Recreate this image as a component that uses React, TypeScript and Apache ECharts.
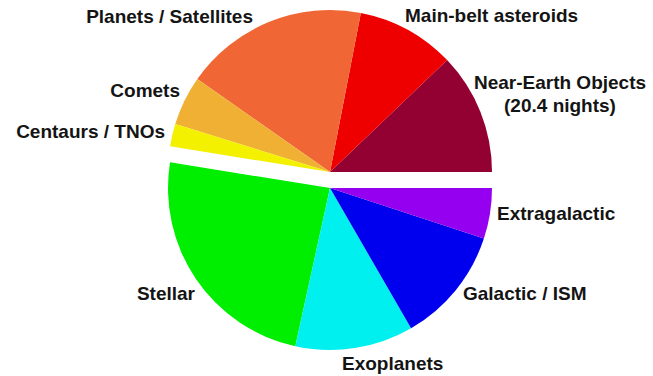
import React, { useEffect, useRef } from "react";
import * as echarts from "echarts";

// Observing time by science area (nights). Solar-system programmes form the
// upper half of the pie; the rest form the lower half.
const solarCategories = [
  "Near-Earth Objects",
  "Main-belt asteroids",
  "Planets / Satellites",
  "Comets",
  "Centaurs / TNOs",
];
const solarNights = [20.4, 16.5, 30.8, 8.3, 3.8];
const solarColors = ["#930032", "#ee0000", "#f06735", "#f0b033", "#f3f000"];

const otherCategories = ["Stellar", "Exoplanets", "Galactic / ISM", "Extragalactic"];
const otherNights = [40.5, 19.8, 19.5, 8.5];
const otherColors = ["#00ee00", "#00f0f0", "#0000ee", "#9500f0"];

// Where each text label sits (px) and how it is anchored.
const labelAnchors: Record<string, { x: number; y: number; align: string }> = {
  "Near-Earth Objects": { x: 560, y: 94, align: "center" },
  "Main-belt asteroids": { x: 405, y: 15, align: "left" },
  "Planets / Satellites": { x: 253, y: 16, align: "right" },
  Comets: { x: 180, y: 90, align: "right" },
  "Centaurs / TNOs": { x: 165, y: 131, align: "right" },
  Stellar: { x: 195, y: 293, align: "right" },
  Exoplanets: { x: 342, y: 363, align: "left" },
  "Galactic / ISM": { x: 463, y: 293, align: "left" },
  Extragalactic: { x: 497, y: 213, align: "left" },
};

const sum = (a: number[]) => a.reduce((s, v) => s + v, 0);

const labelText = {
  show: true,
  position: "outside",
  color: "#141414",
  fontFamily: "'Liberation Sans', Arial, Helvetica, sans-serif",
  fontWeight: "bold",
  fontSize: 19,
  lineHeight: 23,
};

const spacer = (value: number) => ({
  name: "",
  value,
  itemStyle: { color: "transparent" },
  label: { show: false },
  labelLine: { show: false },
  emphasis: { disabled: true },
  silent: true,
});

const slices = (names: string[], values: number[], colors: string[]) =>
  names.map((name, i) => ({
    name,
    value: values[i],
    itemStyle: { color: colors[i] },
    label:
      name === "Near-Earth Objects"
        ? { formatter: "{b}\n({c} nights)", align: "center" }
        : { formatter: "{b}" },
  }));

const layoutLabel = (params: any) => {
  const a = labelAnchors[params.text?.split("\n")[0]];
  if (!a) return {};
  return { x: a.x, y: a.y, align: a.align, verticalAlign: "middle" };
};

export default function App() {
  const ref = useRef<HTMLDivElement>(null);

  useEffect(() => {
    if (!ref.current) return;
    const chart = echarts.init(ref.current, undefined, { renderer: "svg" });
    const common = {
      type: "pie",
      radius: 162,
      startAngle: 0,
      clockwise: false,
      avoidLabelOverlap: false,
      itemStyle: { borderWidth: 0 },
      label: labelText,
      labelLine: { show: false },
      labelLayout: layoutLabel,
      emphasis: { disabled: true },
    };
    chart.setOption({
      animation: false,
      backgroundColor: "#ffffff",
      series: [
        {
          ...common,
          name: "Solar system",
          center: [330, 172],
          data: [
            ...slices(solarCategories, solarNights, solarColors),
            spacer(sum(otherNights)),
          ],
        },
        {
          ...common,
          name: "Beyond",
          center: [330, 188],
          data: [
            spacer(sum(solarNights)),
            ...slices(otherCategories, otherNights, otherColors),
          ],
        },
      ],
    });
    return () => chart.dispose();
  }, []);

  return (
    <div
      ref={ref}
      style={{ position: "absolute", left: 0, top: 0, width: 653, height: 376 }}
    />
  );
}
